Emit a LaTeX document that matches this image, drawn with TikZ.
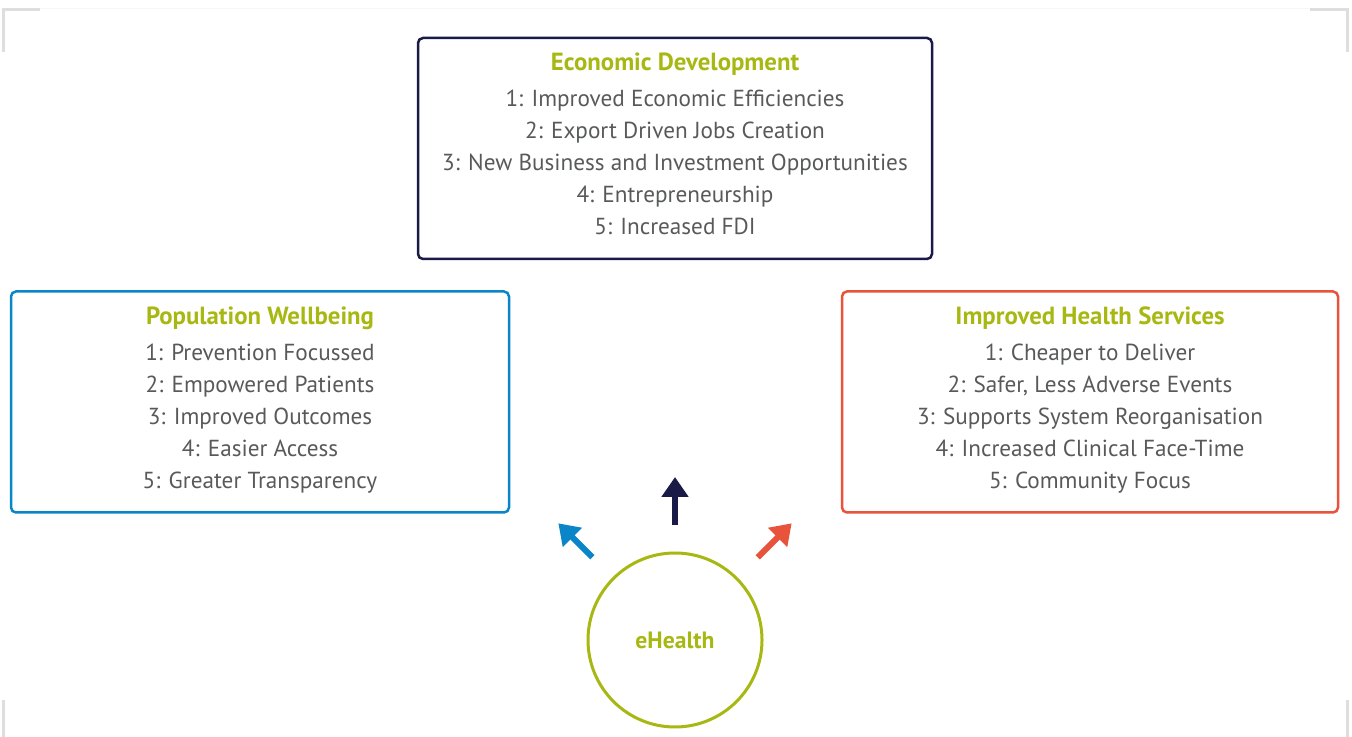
\documentclass[tikz,border=0pt]{standalone}
\usepackage{fontspec}
\setmainfont{PT Sans}
\usetikzlibrary{arrows.meta,positioning}

\definecolor{ehgreen}{RGB}{168,184,18}
\definecolor{ehnavy}{RGB}{25,26,70}
\definecolor{ehblue}{RGB}{10,134,200}
\definecolor{ehred}{RGB}{232,83,59}
\definecolor{ehtext}{RGB}{88,89,91}
\definecolor{ehmark}{RGB}{222,222,222}

\tikzset{
    benefit/.style={draw=#1, line width=1.25pt, rounded corners=2.5pt, minimum height=110.5pt},
    itemlist/.style={align=center, text=ehtext, inner sep=0pt, anchor=north, font=\fontsize{11.6}{16}\selectfont},
    bigarrow/.style={draw=#1, line width=3pt, -{Triangle[width=13pt,length=10pt]}},
    cornermark/.style={draw=ehmark, line width=1.5pt}
}
\newcommand{\boxtitle}[1]{\textcolor{ehgreen}{\fontsize{12.4}{16}\selectfont\textbf{#1}}\\[2pt]}

\begin{document}
\begin{tikzpicture}[x=0.5pt, y=0.5pt]
    \useasboundingbox (0,0) rectangle (1352,737);
    \draw[draw=gray!6, line width=0.5pt] (40,728) -- (1310,728);
    \draw[cornermark] (3,685) -- (3,727) -- (40,727);
    \draw[cornermark] (1310,727) -- (1347,727) -- (1347,685);
    \draw[cornermark] (3,0) -- (3,37);
    \draw[cornermark] (1347,0) -- (1347,37);

    \node[benefit=ehnavy, minimum width=257pt] (eco) at (675,588.5) {};
    \node[benefit=ehblue, minimum width=249pt] (pop) at (260,335) {};
    \node[benefit=ehred, minimum width=248pt] (health) at (1090,335) {};

    \node[itemlist] (ecolist) at ([yshift=-8pt]eco.north) {\boxtitle{Economic Development}
        1: Improved Economic Efficiencies\\
        2: Export Driven Jobs Creation\\
        3: New Business and Investment Opportunities\\
        4: Entrepreneurship\\
        5: Increased FDI};
    \node[itemlist] (poplist) at ([yshift=-8pt]pop.north) {\boxtitle{Population Wellbeing}
        1: Prevention Focussed\\
        2: Empowered Patients\\
        3: Improved Outcomes\\
        4: Easier Access\\
        5: Greater Transparency};
    \node[itemlist] (healthlist) at ([yshift=-8pt]health.north) {\boxtitle{Improved Health Services}
        1: Cheaper to Deliver\\
        2: Safer, Less Adverse Events\\
        3: Supports System Reorganisation\\
        4: Increased Clinical Face-Time\\
        5: Community Focus};

    \node[circle, draw=ehgreen, line width=1.5pt, outer sep=0pt, minimum size=87pt,
        text=ehgreen, font=\fontsize{11.8}{14}\selectfont\bfseries] (eh) at (675,97) {eHealth};

    \draw[bigarrow=ehnavy] ([shift={(90:28)}]eh.90) -- ++(90:48);
    \draw[bigarrow=ehblue] ([shift={(135:30)}]eh.135) -- ++(135:48);
    \draw[bigarrow=ehred] ([shift={(45:30)}]eh.45) -- ++(45:48);
\end{tikzpicture}
\end{document}
